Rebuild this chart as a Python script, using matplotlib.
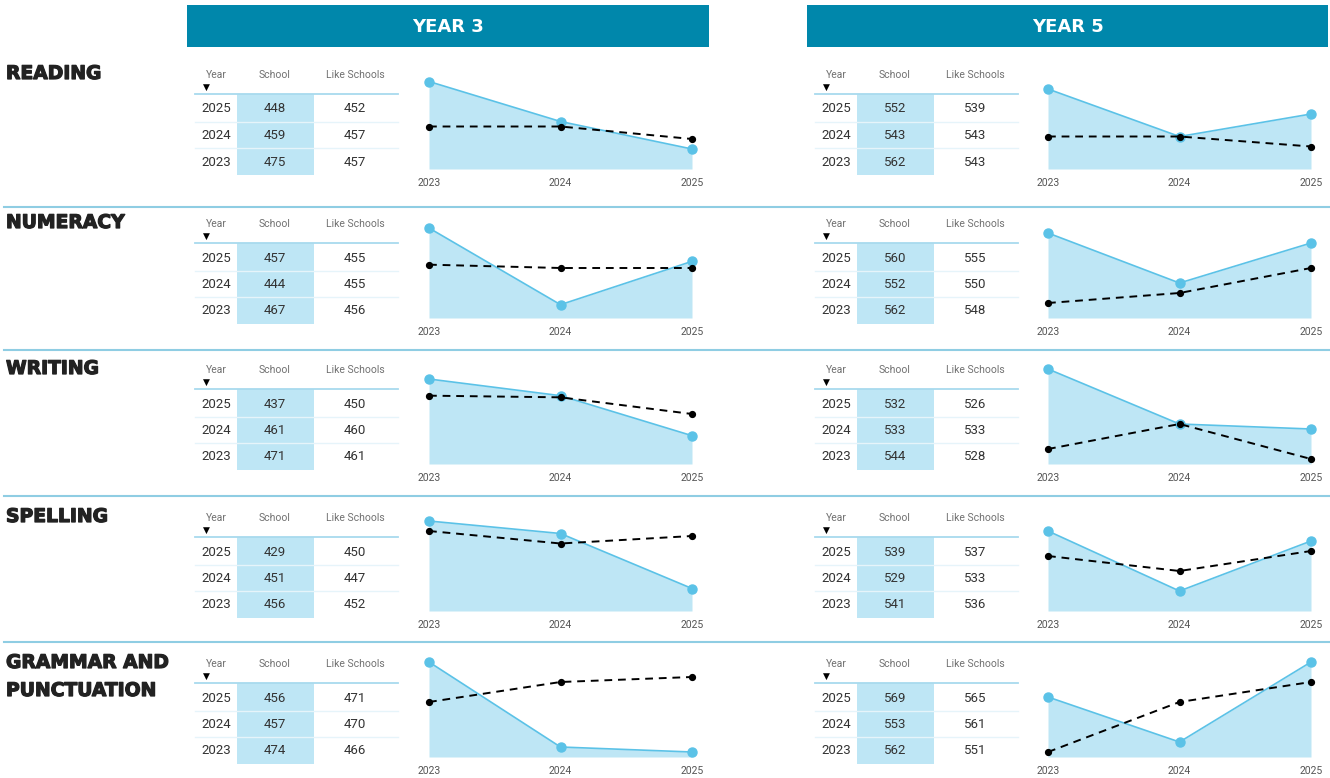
import matplotlib
matplotlib.use("Agg")
import matplotlib.pyplot as plt
from matplotlib.patches import Rectangle
from matplotlib.lines import Line2D
import matplotlib.patheffects as pe

# ---------------- data ----------------
subjects = ["READING", "NUMERACY", "WRITING", "SPELLING", "GRAMMAR AND\nPUNCTUATION"]
years = [2023, 2024, 2025]
panel_titles = ["YEAR 3", "YEAR 5"]
col_headers = ["Year", "School", "Like Schools"]

y3_school = [[475, 459, 448], [467, 444, 457], [471, 461, 437], [456, 451, 429], [474, 457, 456]]
y3_like = [[457, 457, 452], [456, 455, 455], [461, 460, 450], [452, 447, 450], [466, 470, 471]]
y5_school = [[562, 543, 552], [562, 552, 560], [544, 533, 532], [541, 529, 539], [562, 553, 569]]
y5_like = [[543, 543, 539], [548, 550, 555], [528, 533, 526], [536, 533, 537], [551, 561, 565]]

# axis ranges used by each small chart
y3_range = [(440, 480), (440, 470), (420, 480), (420, 460), (455, 475)]
y5_range = [(530, 570), (545, 565), (525, 545), (525, 545), (550, 570)]

# ---------------- layout ----------------
W, H = 1330, 778
fig = plt.figure(figsize=(W / 100, H / 100), dpi=100)
fig.patch.set_facecolor("white")

def fx(x):
    return x / W

def fy(y):
    return 1 - y / H

TEAL = "#0087AB"
FILL = "#BEE6F5"
LINE = "#5BC2E7"
SEP = "#8FCDE3"
GRAY = "#707070"
TXT = "#333333"
FONT = ["Roboto", "DejaVu Sans"]

# header bars
for x0, x1, title in [(187, 709, panel_titles[0]), (807, 1328, panel_titles[1])]:
    fig.patches.append(Rectangle((fx(x0), fy(47)), fx(x1 - x0), 42 / H,
                                 transform=fig.transFigure, facecolor=TEAL,
                                 edgecolor="none"))
    fig.text(fx((x0 + x1) / 2), fy(27), title, color="white", fontsize=13,
             fontweight="bold", ha="center", va="center", family="DejaVu Sans")

# separator lines
for y in [207, 350, 496, 642]:
    fig.add_artist(Line2D([fx(4), fx(1330)], [fy(y), fy(y)],
                          transform=fig.transFigure, color=SEP, lw=1.5))

row_base = [75, 224, 370, 518, 664]
chart_bottom = [169, 318, 464, 611, 757]

panels = [
    dict(school=y3_school, like=y3_like, rng=y3_range, tx=0, cx0=429, cx1=692),
    dict(school=y5_school, like=y5_like, rng=y5_range, tx=620, cx0=1048, cx1=1311),
]

heavy = [pe.withStroke(linewidth=0.9, foreground="#222222")]

for i, subj in enumerate(subjects):
    base = row_base[i]
    # section label
    for k, line in enumerate(subj.split("\n")):
        fig.text(fx(6), fy(base + 4 + 28 * k), line, fontsize=13.5, fontweight="bold",
                 color="#222222", ha="left", va="baseline", family="DejaVu Sans",
                 path_effects=heavy)

    for p in panels:
        t = p["tx"]
        # school column highlight
        fig.patches.append(Rectangle((fx(237 + t), fy(base + 100)), fx(77), 81 / H,
                                     transform=fig.transFigure, facecolor=FILL,
                                     edgecolor="none", zorder=0))
        # header texts
        for hx, htxt in zip([216, 275, 355], col_headers):
            fig.text(fx(hx + t), fy(base), htxt, fontsize=7.5, color=GRAY,
                     ha="center", va="center", family=FONT)
        fig.text(fx(206 + t), fy(base + 12), "\u25BC", fontsize=6.5, color="black",
                 ha="center", va="center", family="DejaVu Sans")
        # header line
        fig.add_artist(Line2D([fx(195 + t), fx(398 + t)], [fy(base + 19)] * 2,
                              transform=fig.transFigure, color="#A8DAEE", lw=1.3))
        for ly in [47, 73]:
            fig.add_artist(Line2D([fx(195 + t), fx(398 + t)], [fy(base + ly)] * 2,
                                  transform=fig.transFigure, color="#E6F4FA", lw=1.0))
        # table rows: newest year first
        for r, j in enumerate([2, 1, 0]):
            ry = base + 34 + 26.5 * r
            fig.text(fx(216 + t), fy(ry), str(years[j]), fontsize=9.5, color=TXT,
                     ha="center", va="center", family=FONT)
            fig.text(fx(275 + t), fy(ry), str(p["school"][i][j]), fontsize=9.5,
                     color=TXT, ha="center", va="center", family=FONT)
            fig.text(fx(355 + t), fy(ry), str(p["like"][i][j]), fontsize=9.5,
                     color=TXT, ha="center", va="center", family=FONT)

        # chart
        b = chart_bottom[i]
        ax = fig.add_axes([fx(p["cx0"]), fy(b), fx(p["cx1"] - p["cx0"]), 100 / H])
        lo, hi = p["rng"][i]
        s = p["school"][i]
        l = p["like"][i]
        ax.fill_between(years, s, lo, color=FILL, lw=0)
        ax.plot(years, s, color=LINE, lw=1.2, marker="o", ms=6.5, mfc=LINE,
                mec=LINE, clip_on=False, zorder=3)
        ax.plot(years, l, color="black", lw=1.4, ls=(0, (4, 3)), marker="o",
                ms=4.2, mfc="black", mec="black", clip_on=False, zorder=4)
        ax.set_xlim(years[0], years[-1])
        ax.set_ylim(lo, hi)
        ax.set_xticks(years)
        ax.set_xticklabels([str(y) for y in years], fontsize=7.5, color="#555555",
                           family=FONT)
        ax.tick_params(axis="x", length=0, pad=6.5)
        ax.set_yticks([])
        for sp in ax.spines.values():
            sp.set_visible(False)
        ax.patch.set_alpha(0)

fig.savefig("out.png", dpi=100)
